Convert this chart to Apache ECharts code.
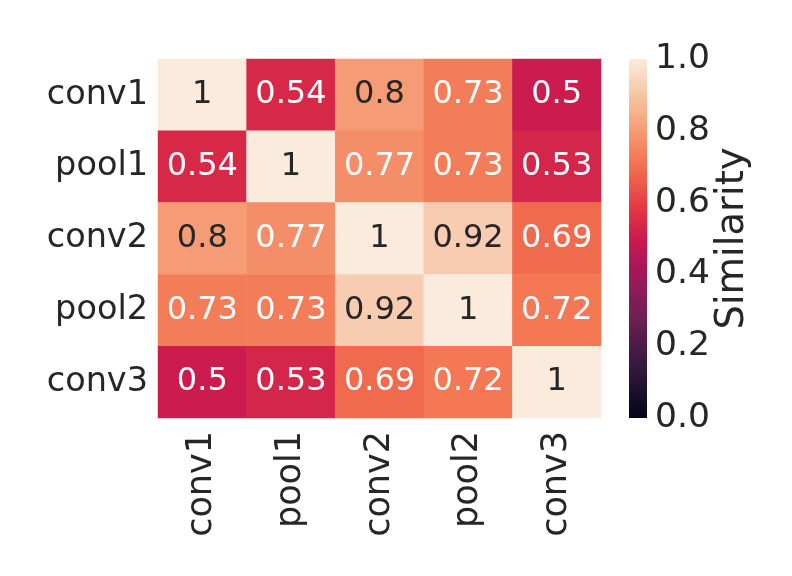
<!DOCTYPE html>
<html>
<head>
<meta charset="utf-8">
<script src="https://cdn.jsdelivr.net/npm/echarts@6/dist/echarts.min.js"></script>
<style>html,body{margin:0;padding:0;background:#fff;}#c{width:792px;height:576px;}</style>
</head>
<body>
<div id="c"></div>
<script>
var categories = ['conv1', 'pool1', 'conv2', 'pool2', 'conv3'];
var matrix = [
  [1, 0.54, 0.8, 0.73, 0.5],
  [0.54, 1, 0.77, 0.73, 0.53],
  [0.8, 0.77, 1, 0.92, 0.69],
  [0.73, 0.73, 0.92, 1, 0.72],
  [0.5, 0.53, 0.69, 0.72, 1]
];
var colorbarTicks = [0.0, 0.2, 0.4, 0.6, 0.8, 1.0];
var rocketOffsets = [0, 1/7, 2/7, 3/7, 0.5, 4/7, 5/7, 6/7, 1];
var rocketColors = ['#03051a', '#35193e', '#701f57', '#ad1759', '#cb1b4f', '#e13342', '#f37651', '#f6b48f', '#faebdd'];

function hex2rgb(h){return [parseInt(h.substr(1,2),16),parseInt(h.substr(3,2),16),parseInt(h.substr(5,2),16)];}
function cmap(v){
  v = Math.max(0, Math.min(1, v));
  var i = 0;
  while (i < rocketOffsets.length - 2 && v > rocketOffsets[i+1]) i++;
  var t = (v - rocketOffsets[i]) / (rocketOffsets[i+1] - rocketOffsets[i]);
  var a = hex2rgb(rocketColors[i]), b = hex2rgb(rocketColors[i+1]);
  return [0,1,2].map(function(k){return Math.round(a[k] + (b[k]-a[k])*t);});
}
function lum(rgb){
  var c = rgb.map(function(x){x/=255;return x<=0.03928?x/12.92:Math.pow((x+0.055)/1.055,2.4);});
  return 0.2126*c[0]+0.7152*c[1]+0.0722*c[2];
}
var FONT = 'DejaVu Sans';
var data = [];
for (var r = 0; r < matrix.length; r++) {
  for (var c = 0; c < matrix[r].length; c++) {
    var v = matrix[r][c];
    var rgb = cmap(v);
    data.push({value: [c, r, v],
      itemStyle: {color: 'rgb(' + rgb.join(',') + ')'},
      label: {color: lum(rgb) > 0.408 ? '#262626' : '#ffffff'}});
  }
}
var stops = rocketColors.map(function(col, i){return {offset: rocketOffsets[i], color: col};});

var chart = echarts.init(document.getElementById('c'));
chart.setOption({
  backgroundColor: '#ffffff',
  animation: false,
  grid: [
    {left: 158, top: 59, width: 443, height: 359},
    {left: 629, top: 59, width: 18, height: 359}
  ],
  xAxis: [
    {type: 'category', data: categories, gridIndex: 0, position: 'bottom',
     axisLine: {show: false}, axisTick: {show: false}, splitLine: {show: false},
     axisLabel: {rotate: 90, margin: 13, padding: [6, 0, 0, 0], fontFamily: FONT, fontSize: 35, color: '#262626'}},
    {type: 'category', data: [''], gridIndex: 1, show: false}
  ],
  yAxis: [
    {type: 'category', data: categories, gridIndex: 0, inverse: true,
     axisLine: {show: false}, axisTick: {show: false}, splitLine: {show: false},
     axisLabel: {margin: 10, padding: [8, 0, 0, 0], fontFamily: FONT, fontSize: 33.5, color: '#262626'}},
    {type: 'value', gridIndex: 1, min: 0, max: 1, interval: 0.2, position: 'right',
     axisLine: {show: false}, axisTick: {show: false}, splitLine: {show: false},
     axisLabel: {margin: 8, fontFamily: FONT, fontSize: 34.5, color: '#262626',
       formatter: function(v){return v.toFixed(1);}},
     name: 'Similarity', nameLocation: 'middle', nameGap: 66, nameRotate: 90,
     nameTextStyle: {fontFamily: FONT, fontSize: 38.5, color: '#262626'}}
  ],
  series: [
    {type: 'heatmap', xAxisIndex: 0, yAxisIndex: 0, data: data,
     label: {show: true, fontFamily: FONT, fontSize: 32, padding: [0, 0, 4, 0],
       formatter: function(p){return String(p.value[2]);}},
     itemStyle: {borderWidth: 0}, emphasis: {disabled: true}},
    {type: 'bar', xAxisIndex: 1, yAxisIndex: 1, data: [1], barWidth: '100%',
     itemStyle: {color: {type: 'linear', x: 0, y: 1, x2: 0, y2: 0, colorStops: stops}},
     silent: true}
  ]
});
</script>
</body>
</html>
